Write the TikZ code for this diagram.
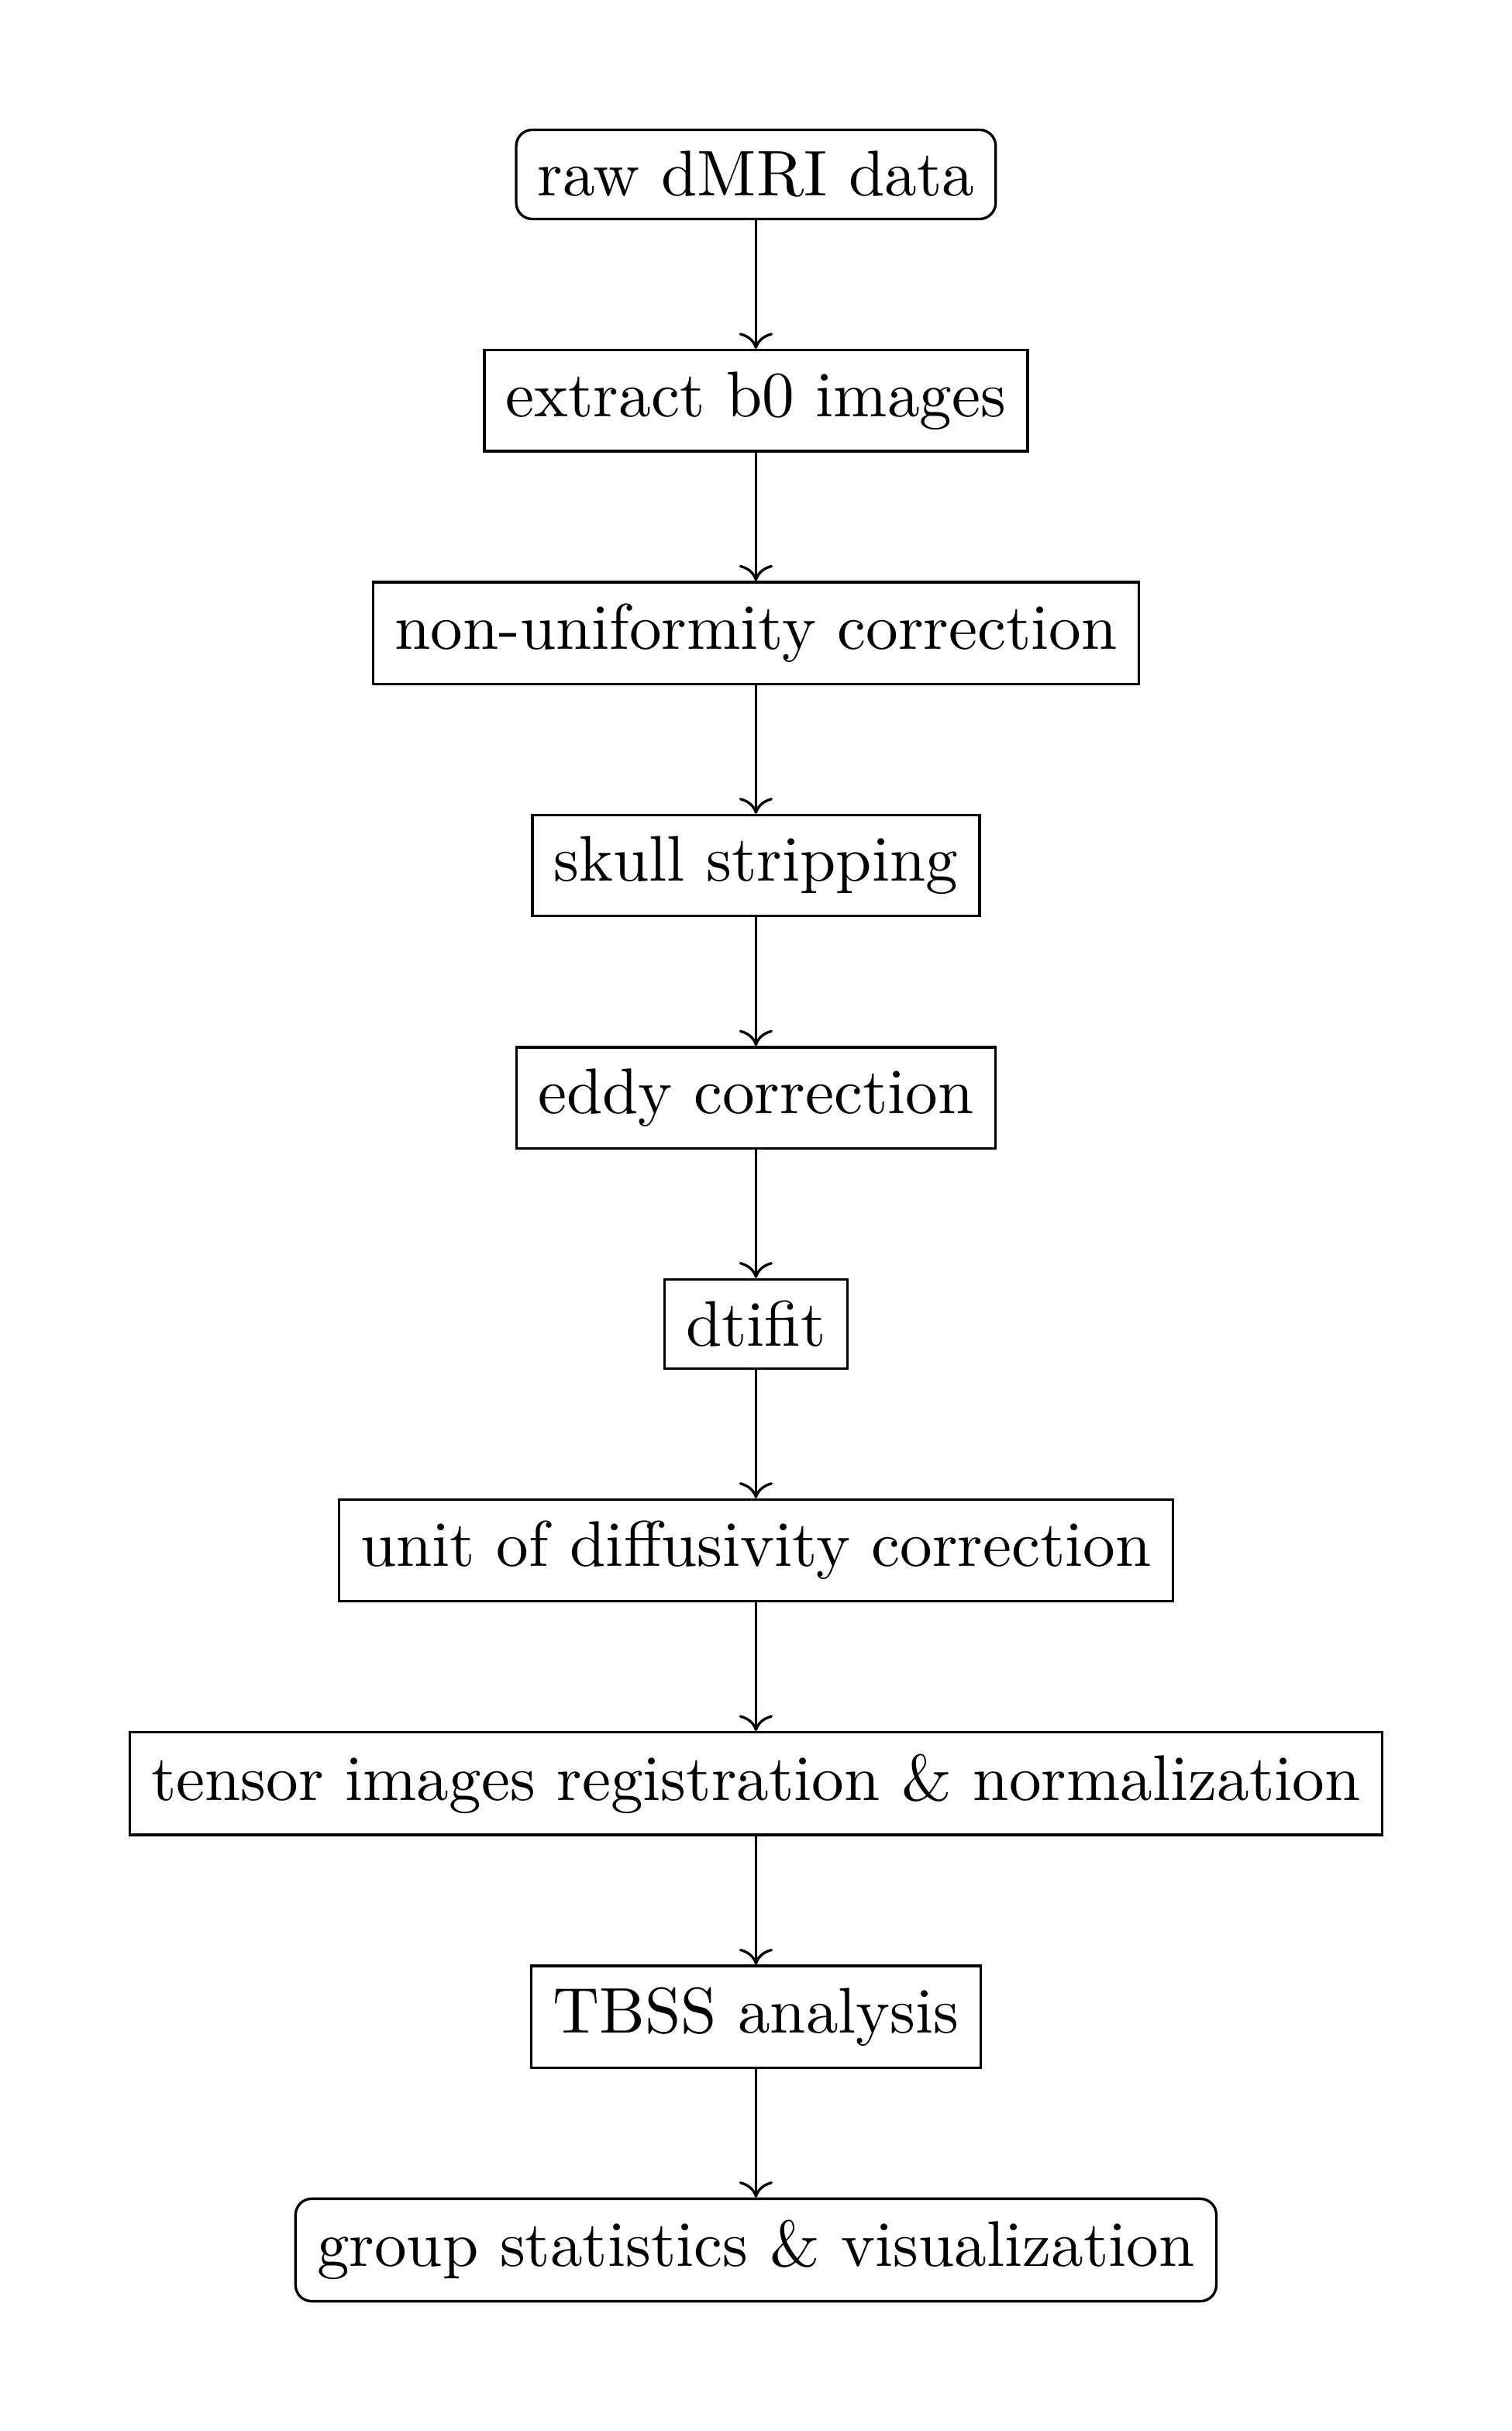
\documentclass[tikz,border=0pt]{standalone}
\usepackage{tikz}
\usetikzlibrary{arrows.meta, positioning}

\begin{document}
\begin{tikzpicture}[
    node distance=0.7cm,
    paso/.style={
        draw=black,
        rectangle,
        align=center
    },
    extremo/.style={
        paso,
        rounded corners=2.5pt
    },
    flecha/.style={
        ->
    }
]

% Pasos del procesamiento
\node (raw) [extremo] {raw dMRI data};

\node (bzero) [paso, below=of raw] {extract b0 images};

\node (nonunif) [paso, below=of bzero] {non-uniformity correction};

\node (skull) [paso, below=of nonunif] {skull stripping};

\node (eddy) [paso, below=of skull] {eddy correction};

\node (dtifit) [paso, below=of eddy] {dtifit};

\node (unitdiff) [paso, below=of dtifit] {unit of diffusivity correction};

\node (tensor) [paso, below=of unitdiff] {tensor images registration \& normalization};

\node (tbss) [paso, below=of tensor] {TBSS analysis};

\node (group) [extremo, below=of tbss] {group statistics \& visualization};

% Flechas
\draw[flecha] (raw) -- (bzero);
\draw[flecha] (bzero) -- (nonunif);
\draw[flecha] (nonunif) -- (skull);
\draw[flecha] (skull) -- (eddy);
\draw[flecha] (eddy) -- (dtifit);
\draw[flecha] (dtifit) -- (unitdiff);
\draw[flecha] (unitdiff) -- (tensor);
\draw[flecha] (tensor) -- (tbss);
\draw[flecha] (tbss) -- (group);

% Margen
\useasboundingbox ([shift={(-0.7cm,-0.7cm)}]current bounding box.south west)
    rectangle ([shift={(0.7cm,0.7cm)}]current bounding box.north east);

\end{tikzpicture}
\end{document}
